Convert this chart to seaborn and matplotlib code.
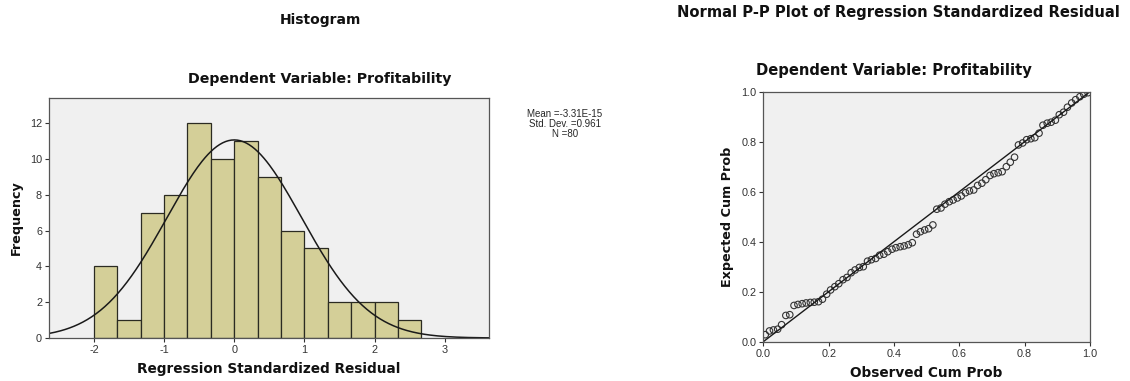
import numpy as np
import pandas as pd
import seaborn as sns
import matplotlib
matplotlib.use('Agg')
import matplotlib.pyplot as plt

# histogram of regression standardized residuals (bin width 1/3, starting at -2)
bin_edges = [-2.0, -1.667, -1.333, -1.0, -0.667, -0.333, 0.0, 0.333,
             0.667, 1.0, 1.333, 1.667, 2.0, 2.333, 2.667]
bin_counts = [4, 1, 7, 8, 12, 10, 11, 9, 6, 5, 2, 2, 2, 1]
res_mean = -3.31e-15
res_sd = 0.961
n_obs = 80

# normal P-P plot
obs_cum_prob = [0.006, 0.019, 0.031, 0.044, 0.056, 0.069, 0.081, 0.094, 0.106, 0.119,
                0.131, 0.144, 0.156, 0.169, 0.181, 0.194, 0.206, 0.219, 0.231, 0.244,
                0.256, 0.269, 0.281, 0.294, 0.306, 0.319, 0.331, 0.344, 0.356, 0.369,
                0.381, 0.394, 0.406, 0.419, 0.431, 0.444, 0.456, 0.469, 0.481, 0.494,
                0.506, 0.519, 0.531, 0.544, 0.556, 0.569, 0.581, 0.594, 0.606, 0.619,
                0.631, 0.644, 0.656, 0.669, 0.681, 0.694, 0.706, 0.719, 0.731, 0.744,
                0.756, 0.769, 0.781, 0.794, 0.806, 0.819, 0.831, 0.844, 0.856, 0.869,
                0.881, 0.894, 0.906, 0.919, 0.931, 0.944, 0.956, 0.969, 0.981, 0.994]
exp_cum_prob = [0.028, 0.043, 0.047, 0.050, 0.068, 0.105, 0.108, 0.145, 0.149, 0.152,
                0.155, 0.157, 0.158, 0.160, 0.170, 0.190, 0.207, 0.220, 0.232, 0.248,
                0.257, 0.276, 0.287, 0.297, 0.300, 0.322, 0.328, 0.333, 0.346, 0.350,
                0.360, 0.370, 0.376, 0.380, 0.383, 0.388, 0.396, 0.430, 0.440, 0.447,
                0.452, 0.467, 0.530, 0.535, 0.550, 0.560, 0.567, 0.575, 0.583, 0.596,
                0.603, 0.607, 0.625, 0.634, 0.648, 0.665, 0.672, 0.676, 0.680, 0.700,
                0.718, 0.738, 0.787, 0.795, 0.808, 0.812, 0.816, 0.834, 0.866, 0.874,
                0.878, 0.886, 0.908, 0.918, 0.938, 0.955, 0.968, 0.980, 0.990, 0.996]

sns.set_style('white')
plt.rcParams['font.family'] = ['Liberation Sans', 'DejaVu Sans']
plt.rcParams['axes.unicode_minus'] = False

W, H = 1130, 381
fig = plt.figure(figsize=(W / 100, H / 100), dpi=100)

def rect(l, t, r, b):
    return [l / W, 1 - b / H, (r - l) / W, (b - t) / H]

def ftext(x, y, s, **kw):
    fig.text(x / W, 1 - y / H, s, ha='center', va='center', **kw)

bg = '#f0f0f0'
frame = '#555555'
bar_col = '#d4cf98'
bold = dict(family='DejaVu Sans', fontweight='bold', color='#111111')

# ---- histogram ----
ax1 = fig.add_axes(rect(49, 98, 489, 338))
ax1.set_facecolor(bg)
centers = [(bin_edges[i] + bin_edges[i + 1]) / 2 for i in range(len(bin_counts))]
hist_df = pd.DataFrame({'resid': centers, 'count': bin_counts})
sns.histplot(data=hist_df, x='resid', weights='count', bins=bin_edges, ax=ax1,
             color=bar_col, alpha=1, edgecolor='#2b2b22', linewidth=0.9)

bw = bin_edges[1] - bin_edges[0]
xs = np.linspace(-2.64, 3.63, 300)
ys = n_obs * bw / (res_sd * np.sqrt(2 * np.pi)) * np.exp(-0.5 * ((xs - res_mean) / res_sd) ** 2)
sns.lineplot(x=xs, y=ys, ax=ax1, color='#1a1a1a', linewidth=1.1)

ax1.set_xlim(-2.64, 3.63)
ax1.set_ylim(0, 13.4)
ax1.set_xticks([-2, -1, 0, 1, 2, 3])
ax1.set_yticks([0, 2, 4, 6, 8, 10, 12])
ax1.set_xlabel('')
ax1.set_ylabel('')

# ---- P-P plot ----
ax2 = fig.add_axes(rect(763.3, 91.7, 1090, 341.7))
ax2.set_facecolor(bg)
sns.lineplot(x=[0, 1], y=[0, 1], ax=ax2, color='#1a1a1a', linewidth=1.0)
pp_df = pd.DataFrame({'obs': obs_cum_prob, 'exp': exp_cum_prob})
sns.scatterplot(data=pp_df, x='obs', y='exp', ax=ax2, marker='o', s=22,
                facecolor='none', edgecolor='#333333', linewidth=0.8)
ax2.set_xlim(0, 1)
ax2.set_ylim(0, 1)
ax2.set_xticks([0, 0.2, 0.4, 0.6, 0.8, 1.0])
ax2.set_yticks([0, 0.2, 0.4, 0.6, 0.8, 1.0])
ax2.set_xticklabels(['0.0', '0.2', '0.4', '0.6', '0.8', '1.0'])
ax2.set_yticklabels(['0.0', '0.2', '0.4', '0.6', '0.8', '1.0'])
ax2.set_xlabel('')
ax2.set_ylabel('')

for ax in (ax1, ax2):
    for sp in ax.spines.values():
        sp.set_visible(True)
        sp.set_color(frame)
        sp.set_linewidth(0.9)
    ax.tick_params(axis='both', which='both', direction='out', length=3, width=0.8,
                   color='#333333', labelsize=7.8, labelcolor='#333333',
                   bottom=True, left=True, pad=2)

# ---- axis labels, titles and notes ----
ftext(269, 369, 'Regression Standardized Residual', fontsize=9.8, **bold)
ftext(16, 218, 'Frequency', fontsize=9.2, rotation=90, **bold)
ftext(926, 373, 'Observed Cum Prob', fontsize=9.8, **bold)
ftext(727, 217, 'Expected Cum Prob', fontsize=9.2, rotation=90, **bold)

ftext(320, 20, 'Histogram', fontsize=10, **bold)
ftext(320, 79, 'Dependent Variable: Profitability', fontsize=10.2, **bold)
ftext(898, 12, 'Normal P-P Plot of Regression Standardized Residual', fontsize=10.6, **bold)
ftext(894, 70, 'Dependent Variable: Profitability', fontsize=10.6, **bold)
ftext(565, 124, 'Mean =%.2E\nStd. Dev. =%.3f\nN =%d' % (res_mean, res_sd, n_obs),
      fontsize=7, linespacing=0.95)

fig.savefig('out.png', dpi=100)
